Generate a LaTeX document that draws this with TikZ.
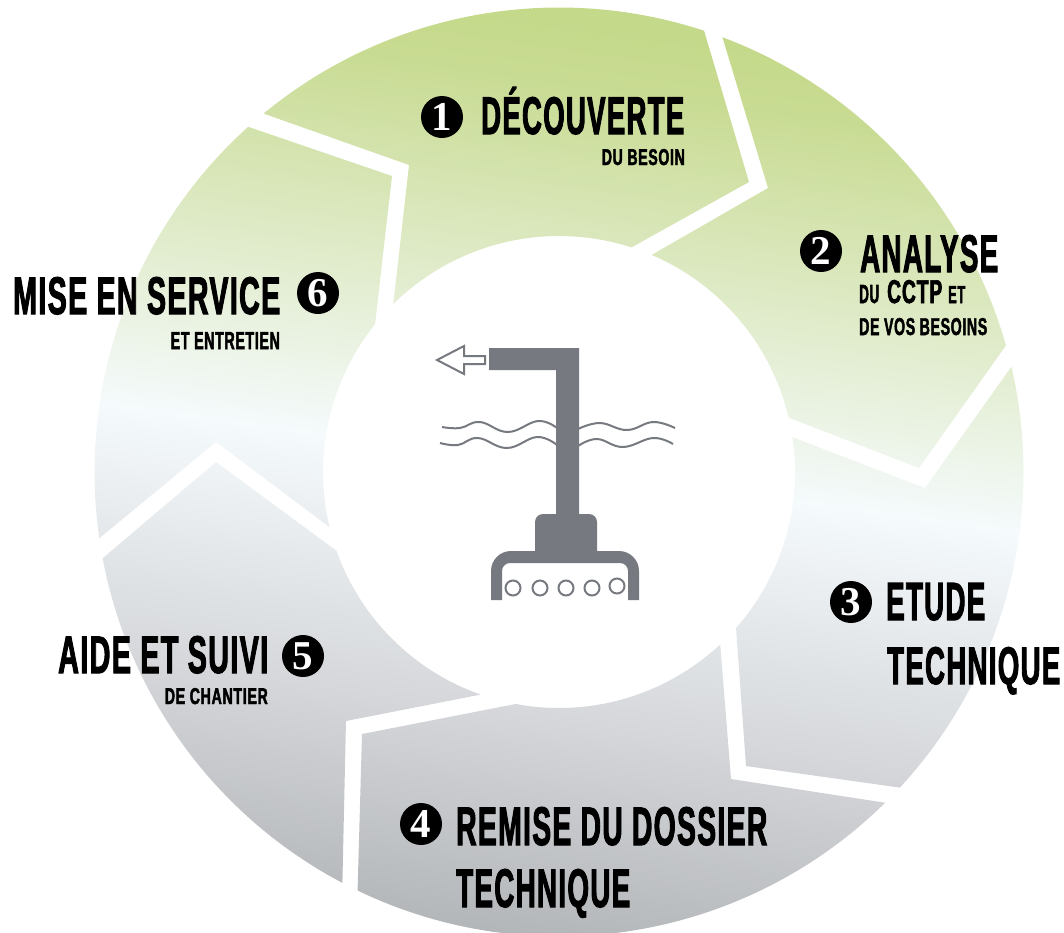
\documentclass[tikz,border=0pt]{standalone}
\usepackage{fontspec}
\usepackage{graphicx}
\newfontfamily\labelfont{Liberation Sans}[FakeStretch=0.62,LetterSpace=3,BoldFeatures={FakeBold=2}]
\newfontfamily\badgefont{Liberation Serif}
\definecolor{ringtop}{HTML}{C3D886}
\definecolor{ringhigh}{HTML}{C8DB92}
\definecolor{ringmid}{HTML}{F5FAFC}
\definecolor{ringlow}{HTML}{D5D7DA}
\definecolor{ringbottom}{HTML}{AEB1B4}
\definecolor{iconcol}{HTML}{767A80}
\pgfdeclareverticalshading{ringshade}{100bp}{color(0bp)=(ringbottom); color(25bp)=(ringbottom); color(38bp)=(ringlow); color(50.5bp)=(ringmid); color(70bp)=(ringhigh); color(75bp)=(ringtop); color(100bp)=(ringtop)}
% width, cap height, text
\newcommand{\fitlabel}[3]{\resizebox{#1pt}{#2pt}{\labelfont\bfseries #3}}
\tikzset{
  badge/.style={circle,fill=black,text=white,inner sep=0pt,minimum size=42pt,font=\badgefont\bfseries\fontsize{41}{41}\selectfont},
  labelleft/.style={inner sep=0pt,anchor=base west},
  labelright/.style={inner sep=0pt,anchor=base east},
  iconfill/.style={fill=iconcol,draw=none},
  iconline/.style={draw=iconcol,line width=2pt},
}
\begin{document}
\begin{tikzpicture}[x=1pt,y=-1pt]
  \clip (0,0) rectangle (1064,932);
  \coordinate (c) at (559,472);
  % ring segments, one path so the shading runs through all of them
  \shade[shading=ringshade,shading angle=-8]
    ([shift={(c)}]-129.5:464.5) arc[radius=464.5,start angle=-129.5,end angle=-71.8]
      -- (749,182) -- ([shift={(c)}]-72.1:236) arc[radius=236,start angle=-72.1,end angle=-134.6]
      -- (409,165) -- cycle
    ([shift={(c)}]-69.4:464.5) arc[radius=464.5,start angle=-69.4,end angle=-15.8]
      -- (919,468) -- ([shift={(c)}]-13.3:236) arc[radius=236,start angle=-13.3,end angle=-66.9]
      -- (768,188) -- cycle
    ([shift={(c)}]-13.1:464.5) arc[radius=464.5,start angle=-13.1,end angle=42.8]
      -- (746,766) -- ([shift={(c)}]41.4:236) arc[radius=236,start angle=41.4,end angle=-8.5]
      -- (925,488) -- cycle
    ([shift={(c)}]45.4:464.5) arc[radius=464.5,start angle=45.4,end angle=115.7]
      -- (362,734) -- ([shift={(c)}]100.6:236) arc[radius=236,start angle=100.6,end angle=46.9]
      -- (731,779) -- cycle
    ([shift={(c)}]117.8:464.5) arc[radius=464.5,start angle=117.8,end angle=169.3]
      -- (216,462) -- ([shift={(c)}]160.5:236) arc[radius=236,start angle=160.5,end angle=109.4]
      -- (346,721) -- cycle
    ([shift={(c)}]171.8:464.5) arc[radius=464.5,start angle=171.8,end angle=228]
      -- (392,176) -- ([shift={(c)}]218.8:236) arc[radius=236,start angle=218.8,end angle=166.5]
      -- (216,442) -- cycle;
  % pump
  \draw[iconline] plot[smooth,tension=0.7] coordinates {(442,427) (460,428) (480,422) (508,432) (538,421) (557,428)};
  \draw[iconline] plot[smooth,tension=0.7] coordinates {(578,429) (600,423) (627,430) (653,422) (675,428)};
  \draw[iconline] plot[smooth,tension=0.7] coordinates {(440,443) (458,445) (478,438) (507,448) (537,437) (557,445)};
  \draw[iconline] plot[smooth,tension=0.7] coordinates {(578,446) (597,439) (623,447) (653,438) (673,444)};
  \fill[iconfill] (489,348) -- (579,348) -- (579,514) -- (556,514) -- (556,370) -- (489,370) -- cycle;
  \fill[iconfill,rounded corners=8pt] (535,560) -- (535,514) -- (597,514) -- (597,560) -- cycle;
  \fill[iconfill] (491,600) [rounded corners=20pt] -- (491,551) -- (639,551) [sharp corners] -- (639,600) -- (628,600)
    [rounded corners=8pt] -- (628,563) -- (502,563) [sharp corners] -- (502,600) -- cycle;
  \foreach \px/\py in {513/588,540/588,566/588,592/588,617/586}
    \draw[iconline] (\px,\py) circle[radius=7.5];
  \draw[iconline,fill=white] (437,360) -- (464,346) -- (464,356) -- (485,356) -- (485,364) -- (464,364) -- (464,374) -- cycle;
  % labels
  \node[badge] (badge1) at (442,117) {1};
  \node[labelleft] (decouverte) at (481,134) {\fitlabel{203}{47}{DÉCOUVERTE}};
  \node[labelright] (besoin) at (685,165) {\fitlabel{83}{16}{DU BESOIN}};
  \node[badge] (badge2) at (821,251) {2};
  \node[labelleft] (analyse) at (860,272) {\fitlabel{138}{37}{ANALYSE}};
  \node[labelleft] (cctp) at (859,303) {\fitlabel{20}{18}{DU}\kern8pt\fitlabel{55}{23}{CCTP}\kern6pt\fitlabel{17}{17}{ET}};
  \node[labelleft] (vosbesoins) at (859,335) {\fitlabel{128}{17}{DE VOS BESOINS}};
  \node[badge] (badge3) at (851,602) {3};
  \node[labelleft] (etude) at (886,620) {\fitlabel{99}{37}{ETUDE}};
  \node[labelleft] (technique3) at (887,684) {\fitlabel{173}{37}{TECHNIQUE}};
  \node[badge] (badge4) at (421,824) {4};
  \node[labelleft] (remise) at (456,845) {\fitlabel{311}{38}{REMISE DU DOSSIER}};
  \node[labelleft] (technique4) at (456,907) {\fitlabel{174}{38}{TECHNIQUE}};
  \node[badge] (badge5) at (303,656) {5};
  \node[labelleft] (aide) at (58,673) {\fitlabel{210}{37}{AIDE ET SUIVI}};
  \node[labelright] (chantier) at (268,704) {\fitlabel{103}{16}{DE CHANTIER}};
  \node[badge] (badge6) at (318,293) {6};
  \node[labelleft] (mise) at (13,314) {\fitlabel{267}{37}{MISE EN SERVICE}};
  \node[labelright] (entretien) at (280,349) {\fitlabel{109}{17}{ET ENTRETIEN}};
\end{tikzpicture}
\end{document}
